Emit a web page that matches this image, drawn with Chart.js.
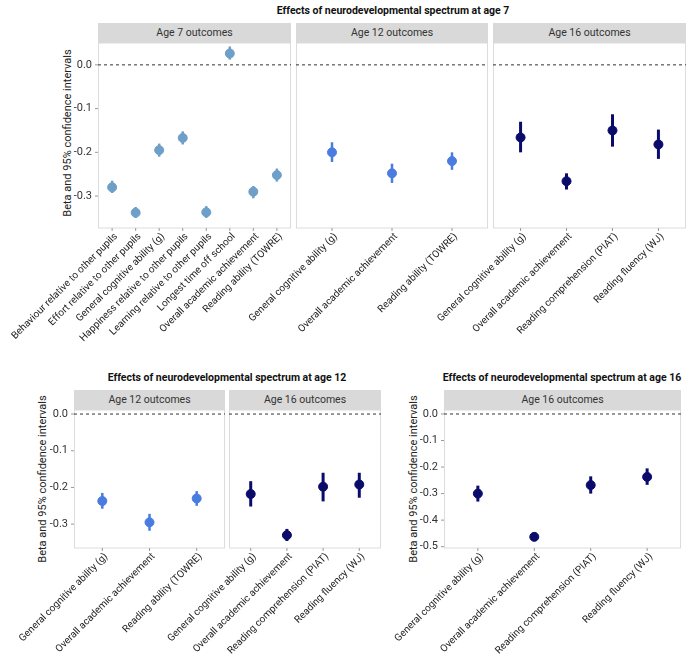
<!DOCTYPE html>
<html><head><meta charset="utf-8">
<script src="https://cdn.jsdelivr.net/npm/chart.js@4"></script>
<style>
body{margin:0;background:#fff;width:700px;height:662px;position:relative;overflow:hidden;font-family:Roboto,sans-serif}
canvas{position:absolute;left:0;top:0}
.strip{position:absolute;background:#d9d9d9;font-size:10.5px;color:#333;text-align:center;line-height:20px;height:20px}
.title{position:absolute;font-weight:bold;font-size:10.5px;color:#111;text-align:center;white-space:nowrap;width:400px}
.ylab{position:absolute;font-size:11px;color:#222;transform:rotate(-90deg);transform-origin:center;white-space:nowrap;text-align:center;width:200px;height:14px;line-height:14px}
</style></head><body>
<div class="title" style="left:193px;top:4px">Effects of neurodevelopmental spectrum at age 7</div>
<div class="title" style="left:27px;top:371px">Effects of neurodevelopmental spectrum at age 12</div>
<div class="title" style="left:362px;top:371px">Effects of neurodevelopmental spectrum at age 16</div>
<div class="ylab" style="left:-32px;top:126px">Beta and 95% confidence intervals</div>
<div class="ylab" style="left:-57px;top:472px">Beta and 95% confidence intervals</div>
<div class="ylab" style="left:314px;top:472px">Beta and 95% confidence intervals</div>
<script>
// ---- data ----
const age7Labels = ['Behaviour relative to other pupils','Effort relative to other pupils','General cognitive ability (g)','Happiness relative to other pupils','Learning relative to other pupils','Longest time off school','Overall academic achievement','Reading ability (TOWRE)'];
const age7Beta = [-0.280,-0.338,-0.195,-0.167,-0.337,0.026,-0.290,-0.252];
const age7Low  = [-0.293,-0.350,-0.210,-0.182,-0.350,0.012,-0.305,-0.267];
const age7High = [-0.265,-0.325,-0.180,-0.152,-0.323,0.042,-0.277,-0.237];

const age12Labels = ['General cognitive ability (g)','Overall academic achievement','Reading ability (TOWRE)'];
const a7_12Beta = [-0.200,-0.248,-0.220];
const a7_12Low  = [-0.222,-0.270,-0.240];
const a7_12High = [-0.177,-0.226,-0.200];

const age16Labels = ['General cognitive ability (g)','Overall academic achievement','Reading comprehension (PIAT)','Reading fluency (WJ)'];
const a7_16Beta = [-0.166,-0.266,-0.150,-0.182];
const a7_16Low  = [-0.200,-0.285,-0.187,-0.215];
const a7_16High = [-0.130,-0.248,-0.113,-0.148];

const a12_12Beta = [-0.237,-0.295,-0.230];
const a12_12Low  = [-0.258,-0.318,-0.250];
const a12_12High = [-0.215,-0.272,-0.210];

const a12_16Beta = [-0.218,-0.330,-0.198,-0.192];
const a12_16Low  = [-0.252,-0.346,-0.238,-0.228];
const a12_16High = [-0.183,-0.313,-0.160,-0.160];

const a16_16Beta = [-0.300,-0.463,-0.268,-0.237];
const a16_16Low  = [-0.330,-0.475,-0.300,-0.267];
const a16_16High = [-0.270,-0.450,-0.235,-0.205];

const topTicks = [0, -0.1, -0.2, -0.3];
const btmRightTicks = [0, -0.1, -0.2, -0.3, -0.4, -0.5];

// ---- drawing ----
const facetPlugin = {
  id: 'facet',
  beforeDatasetsDraw(chart, args, o) {
    const {ctx, chartArea: a, scales: {x, y}} = chart;
    ctx.save();
    ctx.strokeStyle = '#dcdcdc'; ctx.lineWidth = 1;
    ctx.strokeRect(a.left + 0.5, a.top, a.right - a.left - 1, a.bottom - a.top);
    // zero reference line
    ctx.strokeStyle = '#333'; ctx.setLineDash([3, 3]);
    const y0 = y.getPixelForValue(0);
    ctx.beginPath(); ctx.moveTo(a.left, y0); ctx.lineTo(a.right, y0); ctx.stroke();
    ctx.setLineDash([]);
    // error bars
    ctx.strokeStyle = o.color; ctx.lineWidth = o.bw;
    o.low.forEach((lo, i) => {
      const px = x.getPixelForValue(i);
      ctx.beginPath(); ctx.moveTo(px, y.getPixelForValue(lo)); ctx.lineTo(px, y.getPixelForValue(o.high[i])); ctx.stroke();
    });
    // y ticks
    ctx.fillStyle = '#333'; ctx.font = '11px Roboto';
    ctx.textAlign = 'right'; ctx.textBaseline = 'middle';
    (o.ticks || []).forEach(t => {
      const py = y.getPixelForValue(t);
      ctx.fillText(t === 0 ? '0.0' : t.toFixed(1), a.left - 6, py);
      ctx.strokeStyle = '#999'; ctx.lineWidth = 1;
      ctx.beginPath(); ctx.moveTo(a.left - 3, py); ctx.lineTo(a.left, py); ctx.stroke();
    });
    // rotated x labels
    ctx.font = '10px Roboto'; ctx.fillStyle = '#222';
    o.labels.forEach((l, i) => {
      const px = x.getPixelForValue(i);
      ctx.strokeStyle = '#999'; ctx.lineWidth = 1;
      ctx.beginPath(); ctx.moveTo(px, a.bottom); ctx.lineTo(px, a.bottom + 3); ctx.stroke();
      ctx.save();
      ctx.translate(px + 4, a.bottom + 7);
      ctx.rotate(-Math.PI / 4);
      ctx.textAlign = 'right'; ctx.textBaseline = 'middle';
      ctx.fillText(l, 0, 0);
      ctx.restore();
    });
    ctx.restore();
  }
};

function panel(box, labels, beta, low, high, color, ymin, ymax, ticks, bw, strip) {
  const c = document.createElement('canvas');
  c.width = 700; c.height = 662;
  c.style.width = '700px'; c.style.height = '662px';
  document.body.appendChild(c);
  const s = document.createElement('div');
  s.className = 'strip'; s.textContent = strip;
  s.style.left = box[0] + 'px'; s.style.top = (box[1] - 20) + 'px'; s.style.width = (box[2] - box[0]) + 'px';
  document.body.appendChild(s);
  new Chart(c, {
    type: 'scatter',
    data: { datasets: [{ data: beta.map((v, i) => ({x: i, y: v})), backgroundColor: color, borderColor: color, pointRadius: 4.5, pointHoverRadius: 4.5 }] },
    options: {
      responsive: false, animation: false, devicePixelRatio: 1,
      layout: { padding: { left: box[0], top: box[1], right: 700 - box[2], bottom: 662 - box[3] } },
      scales: {
        x: { display: false, min: -0.6, max: labels.length - 0.4 },
        y: { display: false, min: ymin, max: ymax }
      },
      plugins: { legend: {display: false}, tooltip: {enabled: false},
        facet: { labels, low, high, color, ticks, bw } }
    },
    plugins: [facetPlugin]
  });
}

const light = '#6d9fc8', mid = '#4a7be0', navy = '#0b0b6b';
panel([98, 43, 291, 228], age7Labels, age7Beta, age7Low, age7High, light, -0.373, 0.05, topTicks, 2.5, 'Age 7 outcomes');
panel([296, 43, 488, 228], age12Labels, a7_12Beta, a7_12Low, a7_12High, mid, -0.373, 0.05, null, 2.5, 'Age 12 outcomes');
panel([493, 43, 686, 228], age16Labels, a7_16Beta, a7_16Low, a7_16High, navy, -0.373, 0.05, null, 3, 'Age 16 outcomes');
panel([74, 410, 225, 548], age12Labels, a12_12Beta, a12_12Low, a12_12High, mid, -0.365, 0.011, topTicks, 2.5, 'Age 12 outcomes');
panel([229, 410, 381, 548], age16Labels, a12_16Beta, a12_16Low, a12_16High, navy, -0.365, 0.011, null, 3, 'Age 16 outcomes');
panel([444, 410, 681, 548], age16Labels, a16_16Beta, a16_16Low, a16_16High, navy, -0.505, 0.015, btmRightTicks, 3, 'Age 16 outcomes');
</script>
</body></html>
